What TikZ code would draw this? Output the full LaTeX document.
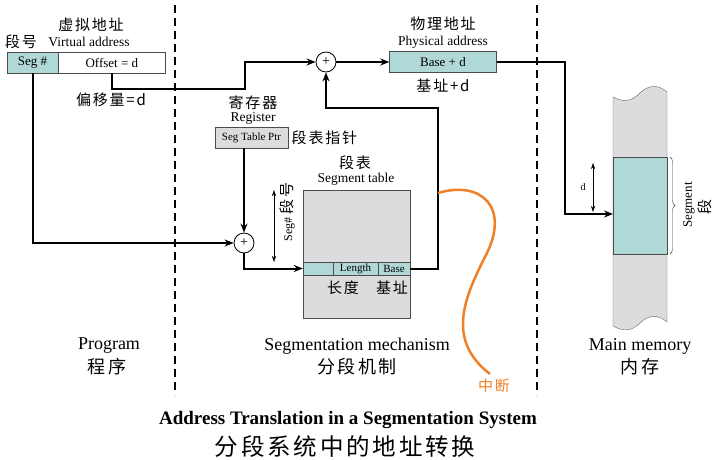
\documentclass[tikz,border=0pt]{standalone}
\usepackage{fontspec}
\setmainfont{Liberation Serif}
\newfontfamily\cjk{Noto Sans CJK SC}[LetterSpace=12]
\usetikzlibrary{arrows.meta,decorations.pathreplacing,positioning}

\definecolor{segteal}{RGB}{176,216,214}
\definecolor{tblgray}{RGB}{220,220,222}
\definecolor{intorange}{RGB}{240,128,40}
\newcommand{\fsz}[1]{\fontsize{#1}{#1}\selectfont}

\tikzset{
  cell/.style={draw=black!70, fill=segteal, minimum height=21pt, inner sep=0pt, font=\fsz{13}},
  rowcell/.style={cell, minimum height=13pt, font=\fsz{11}},
  plusnode/.style={circle, draw, thick, fill=white, minimum size=20pt, inner sep=0pt, font=\fsz{14}},
  link/.style={line width=2pt, -{Stealth[length=9pt,width=7pt]}},
  dimarrow/.style={thin, {Stealth[length=6pt,width=4pt]}-{Stealth[length=6pt,width=4pt]}},
  zh/.style={font=\cjk\fsz{15}},
  en/.style={font=\fsz{13.5}},
  sepline/.style={line width=2pt, dash pattern=on 8pt off 5pt},
}

\begin{document}
\begin{tikzpicture}[x=1pt,y=-1pt]
    \useasboundingbox (0,0) rectangle (720,460);

    % 分隔虚线
    \draw[sepline] (175,5) -- (175,395);
    \draw[sepline] (537,5) -- (537,395);

    % 虚拟地址
    \node[cell, minimum width=51pt] (seg) at (32.5,62.5) {Seg \#};
    \node[cell, fill=white, minimum width=107pt, anchor=west] (off) at (seg.east) {Offset = d};
    \node[zh] (vlabel) at (91,25) {虚拟地址};
    \node[zh] (seglabel) at (21,42) {段号};
    \node[en] (vaddr) at (89,42) {Virtual address};
    \node[zh] (offlabel) at (111,100) {偏移量=d};

    % 加法器
    \node[plusnode] (add1) at (326,62) {+};
    \node[plusnode] (add2) at (244,243) {+};

    % 物理地址
    \node[cell, minimum width=107pt] (phys) at (443,62) {Base + d};
    \node[zh] (plabel) at (443,24) {物理地址};
    \node[en] (paddr) at (443,42) {Physical address};
    \node[zh] (pbase) at (443,86) {基址+d};

    % 寄存器
    \node[zh] (rlabel) at (253,103) {寄存器};
    \node[en] (rname) at (253,118) {Register};
    \node[cell, fill=tblgray, minimum width=73pt, font=\fsz{11}] (reg) at (251.5,137.5) {Seg Table Ptr};
    \node[zh, anchor=west] (ptrlabel) at (reg.east) {段表指针};

    % 段表
    \node[zh] (tlabel) at (355,163) {段表};
    \node[en] (tname) at (356,179) {Segment table};
    \node[draw=black!70, fill=tblgray, minimum width=107pt, minimum height=128pt, inner sep=0pt] (tbl) at (356.5,254) {};
    \node[rowcell, minimum width=30pt] (rseg) at (318,268.5) {};
    \node[rowcell, minimum width=45pt] (rlen) at (355.5,268.5) {Length};
    \node[rowcell, minimum width=32pt] (rbase) at (394,268.5) {Base};
    \node[zh] (lenlabel) at (343,288) {长度};
    \node[zh] (baselabel) at (392,288) {基址};
    \draw[dimarrow] (274,190) -- (274,262);
    \node[rotate=90, font=\fsz{12}] (segidx) at (287,212) {Seg\# {\cjk\fsz{15}段号}};

    % 主存
    \draw[draw=black!60, fill=tblgray] (613,97) .. controls (624,103) and (632,101) .. (640,93)
        .. controls (648,85) and (658,84) .. (667,92) -- (667,322)
        .. controls (658,314) and (648,315) .. (640,323) .. controls (632,331) and (624,332) .. (613,326) -- cycle;
    \draw[draw=black!70, fill=segteal] (613,157) rectangle (667,254);
    \coordinate (memin) at (613,214);
    \draw[dimarrow] (593,163) -- (593,212);
    \node[font=\fsz{10}] (dlabel) at (583,187) {d};
    \draw[decorate, decoration={brace, amplitude=5pt}, black!80] (670,157) -- (670,254);
    \node[rotate=90, font=\fsz{13}] (memseg) at (689,205) {Segment};
    \node[rotate=90, zh] (memsegzh) at (705,207) {段};

    % 连线
    \draw[link] (off.south) -- ++(0,16) -| (245,62) -- (add1);
    \draw[link] (add1) -- (phys);
    \draw[link] (phys.east) -| (565,62) |- (memin);
    \draw[link] (reg.south -| add2) -- (add2);
    \draw[link] (seg.south) |- (add2);
    \draw[link] (add2) |- (rseg.west);
    \draw[link] (rbase.east) -| (438,108) -| (add1);

    % 中断
    \draw[intorange, line width=2.5pt] (438,193) .. controls (482,180) and (510,208) .. (486,255)
        .. controls (464,298) and (446,340) .. (490,374);
    \node[font=\cjk\fsz{15}, text=intorange] (intlabel) at (494,386) {中断};

    % 分区标题
    \node[font=\fsz{18}] (prog) at (109,346) {Program};
    \node[font=\cjk\fsz{18}] (progzh) at (107,367) {程序};
    \node[font=\fsz{18}] (mech) at (357,346) {Segmentation mechanism};
    \node[font=\cjk\fsz{18}] (mechzh) at (357,367) {分段机制};
    \node[font=\fsz{18}] (mem) at (640,346) {Main memory};
    \node[font=\cjk\fsz{18}] (memzh) at (640,367) {内存};

    % 图题
    \node[font=\bfseries\fsz{19}] (title) at (348,420) {Address Translation in a Segmentation System};
    \node[font=\cjk\fsz{23.5}] (titlezh) at (345,447) {分段系统中的地址转换};
\end{tikzpicture}
\end{document}
